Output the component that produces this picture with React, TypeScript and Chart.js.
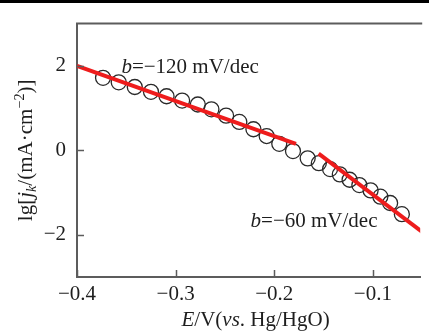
import React, { useEffect, useRef } from "react";
import { Chart, registerables } from "chart.js";

Chart.register(...registerables);

// ---- data ----
const E_DATA = [
  -0.3736, -0.3577, -0.3414, -0.325, -0.3092, -0.2934, -0.2775, -0.2637,
  -0.2488, -0.2354, -0.2211, -0.2077, -0.1949, -0.181, -0.1661, -0.1548,
  -0.1434, -0.1335, -0.1236, -0.1137, -0.1023, -0.0924, -0.0825, -0.0706,
];
const LG_DATA = [
  1.717, 1.609, 1.499, 1.384, 1.28, 1.177, 1.085, 0.97,
  0.821, 0.671, 0.499, 0.338, 0.154, -0.018, -0.191, -0.306,
  -0.444, -0.57, -0.697, -0.823, -0.949, -1.099, -1.248, -1.513,
];
const FIT1_E = [-0.4, -0.178];
const FIT1_LG = [2.0, 0.15];
const FIT2_E = [-0.155, -0.05];
const FIT2_LG = [-0.08, -1.93];

const X_TICKS = [-0.4, -0.3, -0.2, -0.1];
const Y_TICKS = [-2, 0, 2];
const X_MIN = -0.4;
const X_MAX = -0.052;
const Y_MIN = -3;
const Y_MAX = 3;

const LABEL_1 = ["b", "=−120 mV/dec"];
const LABEL_1_AT = [-0.355, 1.83];
const LABEL_2 = ["b", "=−60 mV/dec"];
const LABEL_2_AT = [-0.224, -1.82];

const FONT = "'Liberation Serif', 'Times New Roman', serif";
const TEXT = "#1e1e1e";
const AXIS = "#5c5c5c";
const RED = "#ee1c1c";

type Seg = { t: string; it?: boolean; sc?: number; dy?: number };

function drawRich(ctx: CanvasRenderingContext2D, segs: Seg[], x: number, y: number, size: number, align: "left" | "center") {
  const fontFor = (s: Seg) => `${s.it ? "italic " : ""}${(size * (s.sc || 1)).toFixed(1)}px ${FONT}`;
  let total = 0;
  for (const s of segs) {
    ctx.font = fontFor(s);
    total += ctx.measureText(s.t).width;
  }
  let cx = align === "center" ? x - total / 2 : x;
  ctx.textBaseline = "alphabetic";
  ctx.textAlign = "left";
  for (const s of segs) {
    ctx.font = fontFor(s);
    ctx.fillText(s.t, cx, y + (s.dy || 0) * size);
    cx += ctx.measureText(s.t).width;
  }
}

const fmt = (v: number) => (v < 0 ? "−" + String(Math.abs(v)) : String(v));

const decorPlugin = {
  id: "decor",
  afterDraw(chart: any) {
    const { ctx, chartArea: a, scales } = chart;
    const xs = scales.x;
    const ys = scales.y;
    ctx.save();
    // top frame line
    ctx.strokeStyle = AXIS;
    ctx.lineWidth = 2;
    ctx.beginPath();
    ctx.moveTo(a.left - 1, a.top);
    ctx.lineTo(a.right + 2, a.top);
    ctx.stroke();
    // inward tick marks
    ctx.lineWidth = 1.5;
    ctx.beginPath();
    for (const v of X_TICKS) {
      const px = Math.round(xs.getPixelForValue(v)) + 0.5;
      ctx.moveTo(px, a.bottom);
      ctx.lineTo(px, a.bottom - 7);
    }
    for (const v of Y_TICKS) {
      const py = Math.round(ys.getPixelForValue(v)) + 0.5;
      ctx.moveTo(a.left, py);
      ctx.lineTo(a.left + 7, py);
    }
    ctx.stroke();

    ctx.fillStyle = TEXT;
    // annotations
    drawRich(ctx, [{ t: LABEL_1[0], it: true }, { t: LABEL_1[1] }],
      xs.getPixelForValue(LABEL_1_AT[0]), ys.getPixelForValue(LABEL_1_AT[1]), 21, "left");
    drawRich(ctx, [{ t: LABEL_2[0], it: true }, { t: LABEL_2[1] }],
      xs.getPixelForValue(LABEL_2_AT[0]), ys.getPixelForValue(LABEL_2_AT[1]), 21, "left");

    // x title
    drawRich(ctx, [
      { t: "E", it: true }, { t: "/V(" }, { t: "vs", it: true }, { t: ". Hg/HgO)" },
    ], (a.left + a.right) / 2 + 7, 326, 21, "center");

    // y title (rotated)
    ctx.translate(32, (a.top + a.bottom) / 2);
    ctx.rotate(-Math.PI / 2);
    drawRich(ctx, [
      { t: "lg[" }, { t: "j", it: true }, { t: "k", it: true, sc: 0.68, dy: 0.18 },
      { t: "/(mA·cm" }, { t: "−2", sc: 0.68, dy: -0.38 }, { t: ")]" },
    ], 0, 0, 21, "center");
    ctx.restore();
  },
};

export default function App() {
  const ref = useRef<HTMLCanvasElement | null>(null);
  useEffect(() => {
    if (!ref.current) return;
    const chart = new Chart(ref.current, {
      type: "scatter",
      data: {
        datasets: [
          {
            type: "line",
            data: FIT1_E.map((e, i) => ({ x: e, y: FIT1_LG[i] })),
            borderColor: RED,
            borderWidth: 4,
            pointRadius: 0,
            fill: false,
            order: 0,
          } as any,
          {
            type: "line",
            data: FIT2_E.map((e, i) => ({ x: e, y: FIT2_LG[i] })),
            borderColor: RED,
            borderWidth: 4,
            pointRadius: 0,
            fill: false,
            order: 0,
          } as any,
          {
            data: E_DATA.map((e, i) => ({ x: e, y: LG_DATA[i] })),
            pointRadius: 7.5,
            pointBorderWidth: 1.3,
            pointBorderColor: "#2a2a2a",
            pointBackgroundColor: "rgba(0,0,0,0)",
            order: 1,
          } as any,
        ],
      },
      options: {
        animation: false,
        responsive: false,
        maintainAspectRatio: false,
        layout: { padding: { top: 15, right: 0, left: 0, bottom: 0 } },
        plugins: { legend: { display: false }, tooltip: { enabled: false } },
        scales: {
          x: {
            type: "linear",
            min: X_MIN,
            max: X_MAX,
            grid: { display: false, drawTicks: false },
            border: { display: true, color: AXIS, width: 2 },
            afterBuildTicks: (s: any) => { s.ticks = X_TICKS.map((v) => ({ value: v })); },
            afterFit: (s: any) => { s.height = 54; },
            ticks: {
              padding: 5,
              color: TEXT,
              font: { family: FONT, size: 21 },
              maxRotation: 0,
              callback: (v: any) => fmt(Number(v)),
            },
          },
          y: {
            type: "linear",
            min: Y_MIN,
            max: Y_MAX,
            grid: { display: false, drawTicks: false },
            border: { display: true, color: AXIS, width: 2 },
            afterBuildTicks: (s: any) => { s.ticks = Y_TICKS.map((v) => ({ value: v })); },
            afterFit: (s: any) => { s.width = 77; },
            ticks: {
              padding: 11,
              color: TEXT,
              font: { family: FONT, size: 21 },
              callback: (v: any) => fmt(Number(v)),
            },
          },
        },
      },
      plugins: [decorPlugin],
    });
    return () => chart.destroy();
  }, []);

  return (
    <div style={{ position: "fixed", left: 0, top: 0, width: 429, height: 331, overflow: "hidden", background: "#fff" }}>
      <div style={{ position: "absolute", left: 0, top: 0, width: 429, height: 3, background: "#000", zIndex: 2 }} />
      <canvas ref={ref} width={429} height={331} style={{ width: 429, height: 331, display: "block" }} />
    </div>
  );
}
